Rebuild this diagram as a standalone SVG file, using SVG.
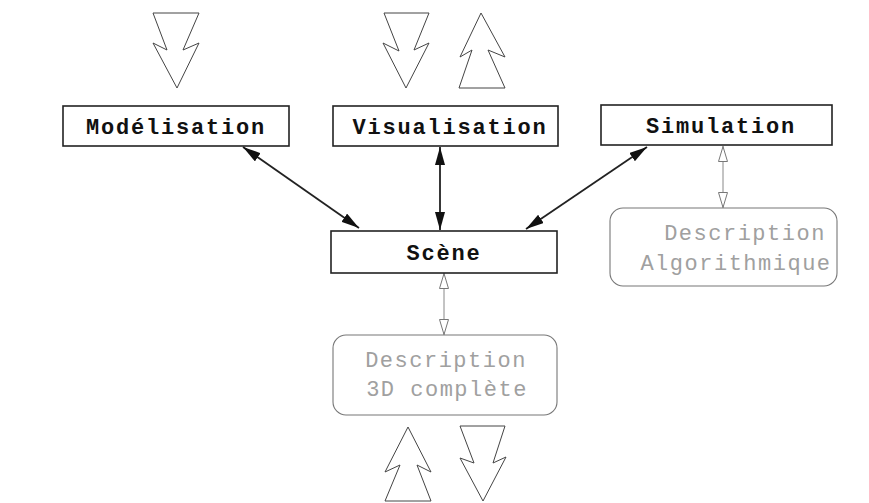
<svg xmlns="http://www.w3.org/2000/svg" width="869" height="503" viewBox="0 0 869 503">
<style>
.box{fill:#fff;stroke:#222;stroke-width:1.6}
.rbox{fill:#fff;stroke:#777;stroke-width:1.1}
.lbl{font-family:"Liberation Mono","Courier New",monospace;font-weight:bold;font-size:22px;letter-spacing:1.8px;fill:#111;text-anchor:middle}
.dlbl{font-family:"Liberation Mono","Courier New",monospace;font-size:22px;letter-spacing:1.5px;fill:#a0a0a0;text-anchor:middle}
.big{fill:#fff;stroke:#444;stroke-width:1;stroke-linejoin:miter}
.con{stroke:#222;stroke-width:1.8;fill:none}
.ocon{stroke:#888;stroke-width:1;fill:none}
</style>
<defs>
<marker id="fa" viewBox="0 0 18 10" refX="18" refY="5" markerWidth="18" markerHeight="10" markerUnits="userSpaceOnUse" orient="auto-start-reverse">
<path d="M0,0 L18,5 L0,10 Z" fill="#111"/>
</marker>
<marker id="oa" viewBox="0 0 16 10" refX="16" refY="5" markerWidth="16" markerHeight="10" markerUnits="userSpaceOnUse" orient="auto-start-reverse">
<path d="M0.5,0.5 L15.5,5 L0.5,9.5 Z" fill="#fff" stroke="#777" stroke-width="1"/>
</marker>
</defs>

<g id="bigarrows">
<polygon class="big" points="153,13 199,13 183,50 199,43 177,88 153,43 167,50"/>
<polygon class="big" points="384,13 429,13 414,50 429,43 406,88 383,43 399,51"/>
<polygon class="big" points="481,13 505,57 488,50 505,88 459,88 472,50 460,57"/>
<polygon class="big" points="408,427 431,472 417,465 431,501 385,501 400,465 385,472"/>
<polygon class="big" points="460,426 505,426 493,463 506,457 483,501 460,458 474,463"/>
</g>

<g id="connectors">
<line class="con" x1="243" y1="147" x2="359" y2="228" marker-start="url(#fa)" marker-end="url(#fa)"/>
<line class="con" x1="440" y1="147" x2="440" y2="230" marker-start="url(#fa)" marker-end="url(#fa)"/>
<line class="con" x1="647" y1="147" x2="526" y2="229" marker-start="url(#fa)" marker-end="url(#fa)"/>
<line class="ocon" x1="723" y1="146" x2="723" y2="208" marker-start="url(#oa)" marker-end="url(#oa)"/>
<line class="ocon" x1="444" y1="273" x2="444" y2="335" marker-start="url(#oa)" marker-end="url(#oa)"/>
</g>

<g id="modelisation">
<rect class="box" x="63" y="106" width="226" height="40"/>
<text class="lbl" x="176" y="134">Modélisation</text>
</g>
<g id="visualisation">
<rect class="box" x="333" y="106" width="225" height="40"/>
<text class="lbl" x="450" y="134">Visualisation</text>
</g>
<g id="simulation">
<rect class="box" x="601" y="105" width="231" height="40"/>
<text class="lbl" x="721" y="133">Simulation</text>
</g>
<g id="scene">
<rect class="box" x="331" y="231" width="226" height="42"/>
<text class="lbl" x="444" y="260">Scène</text>
</g>
<g id="descalgo">
<rect class="rbox" x="610" y="208" width="227" height="78" rx="13" ry="13"/>
<text class="dlbl" x="745" y="240">Description</text>
<text class="dlbl" x="736" y="270">Algorithmique</text>
</g>
<g id="desc3d">
<rect class="rbox" x="333" y="335" width="224" height="80" rx="13" ry="13"/>
<text class="dlbl" x="446" y="367">Description</text>
<text class="dlbl" x="447" y="396">3D complète</text>
</g>
</svg>
